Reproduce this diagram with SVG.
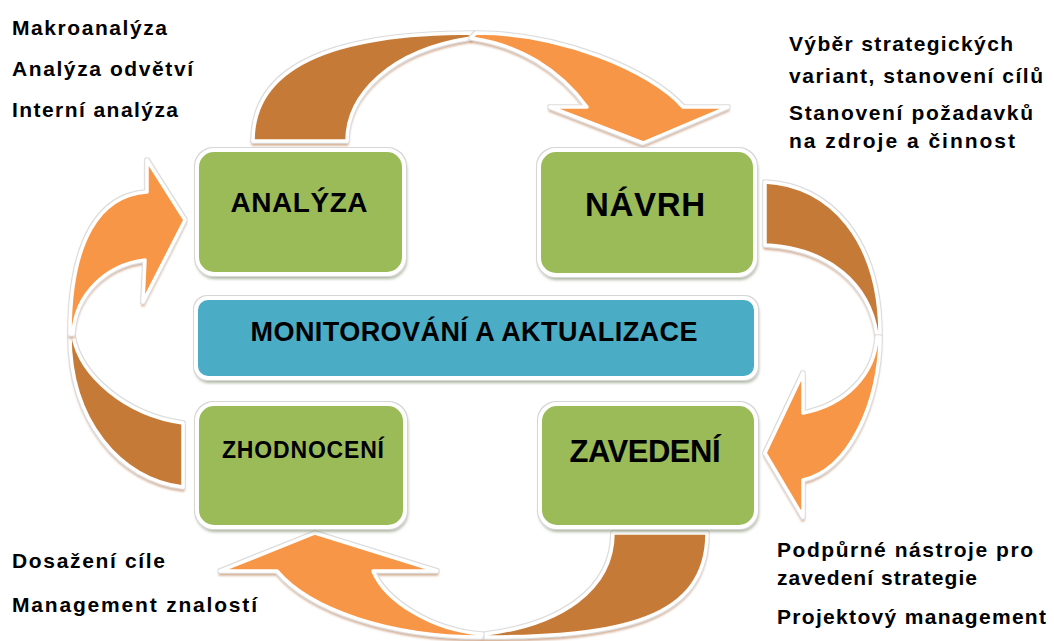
<svg xmlns="http://www.w3.org/2000/svg" width="1054" height="641" viewBox="0 0 1054 641">
  <defs>
    <style>
      .box { fill: #9BBB59; stroke: #ffffff; stroke-width: 4; filter: url(#boxFx); }
      .monitor { fill: #4BACC6; stroke: #ffffff; stroke-width: 4; filter: url(#boxFx); }
      .tail { fill: #C67A37; stroke: #ffffff; stroke-width: 3.5; stroke-linejoin: round; filter: url(#arrowFx); }
      .head { fill: #F79646; stroke: #ffffff; stroke-width: 3.5; stroke-linejoin: round; filter: url(#arrowFx); }
      .lbl { font-family: "Liberation Sans", Arial, sans-serif; font-weight: bold; fill: #000000; text-anchor: middle; }
      .note { font-family: "Liberation Sans", Arial, sans-serif; font-weight: bold; font-size: 21px; fill: #000000; }
    </style>
    <filter id="boxFx" x="-6%" y="-8%" width="114%" height="124%">
      <feGaussianBlur in="SourceAlpha" stdDeviation="1.5" result="blur"/>
      <feOffset in="blur" dx="1" dy="3" result="off"/>
      <feFlood flood-color="#6f7d58" flood-opacity="0.55"/>
      <feComposite in2="off" operator="in" result="shadow"/>
      <feMorphology in="SourceAlpha" operator="dilate" radius="1.2" result="wide"/>
      <feFlood flood-color="#d6d6d6"/>
      <feComposite in2="wide" operator="in" result="rim"/>
      <feMerge>
        <feMergeNode in="shadow"/>
        <feMergeNode in="rim"/>
        <feMergeNode in="SourceGraphic"/>
      </feMerge>
    </filter>
    <filter id="arrowFx" x="-10%" y="-10%" width="125%" height="125%">
      <feGaussianBlur in="SourceAlpha" stdDeviation="1.2" result="blur"/>
      <feOffset in="blur" dx="0" dy="2.5" result="off"/>
      <feFlood flood-color="#b8784a" flood-opacity="0.6"/>
      <feComposite in2="off" operator="in" result="shadow"/>
      <feMorphology in="SourceAlpha" operator="dilate" radius="1" result="wide"/>
      <feFlood flood-color="#dcdcdc"/>
      <feComposite in2="wide" operator="in" result="rim"/>
      <feMerge>
        <feMergeNode in="shadow"/>
        <feMergeNode in="rim"/>
        <feMergeNode in="SourceGraphic"/>
      </feMerge>
    </filter>
  </defs>

  <!-- curved arrows linking the four phases -->
  <g id="connectors">
    <!-- top: ANALÝZA -> NÁVRH -->
    <g id="arrow-top">
      <path class="tail" d="M253,141 C253,50 370,33 474,33 L471,38 C390,50 347,95 347,141 Z"/>
      <path class="head" d="M476,33 C560,33 650,70 683,107 L728,107 L643,143 L550,107 L587,107 C560,70 520,45 471,38 Z"/>
    </g>
    <!-- right: NÁVRH -> ZAVEDENÍ -->
    <g id="arrow-right">
      <path class="tail" d="M765,182 C830,185 880,240 880,335 L877,335 C870,285 830,248 765,245 Z"/>
      <path class="head" d="M880,337 C880,400 850,470 803,480 L803,517 L765,453 L803,373 L803,413 C845,405 875,375 877,337 Z"/>
    </g>
    <!-- bottom: ZAVEDENÍ -> ZHODNOCENÍ -->
    <g id="arrow-bottom">
      <path class="tail" d="M707,533 C707,620 620,637 483,637 L485,634 C560,625 613,590 613,533 Z"/>
      <path class="head" d="M481,637 C390,637 310,610 277,571 L220,571 L315,533 L437,571 L373,571 C385,600 430,630 482,634 Z"/>
    </g>
    <!-- left: ZHODNOCENÍ -> ANALÝZA -->
    <g id="arrow-left">
      <path class="tail" d="M70,336 C70,420 120,480 183,487 L183,423 C125,415 80,375 73,336 Z"/>
      <path class="head" d="M70,334 C70,240 100,195 147,192 L147,160 L185,220 L143,302 L145,260 C105,265 75,295 73,334 Z"/>
    </g>
  </g>

  <g id="analyza">
    <rect class="box" x="197" y="150" width="207" height="124" rx="17"/>
    <text class="lbl" x="299" y="212" font-size="28" textLength="137">ANALÝZA</text>
  </g>

  <g id="navrh">
    <rect class="box" x="539" y="150" width="216" height="125" rx="17"/>
    <text class="lbl" x="645" y="216" font-size="33" textLength="120">NÁVRH</text>
  </g>

  <g id="monitorovani">
    <rect class="monitor" x="196" y="298" width="560" height="80" rx="12"/>
    <text class="lbl" x="474" y="341" font-size="27" textLength="447">MONITOROVÁNÍ A AKTUALIZACE</text>
  </g>

  <g id="zhodnoceni">
    <rect class="box" x="197" y="404" width="208" height="123" rx="17"/>
    <text class="lbl" x="303" y="458" font-size="23" textLength="162">ZHODNOCENÍ</text>
  </g>

  <g id="zavedeni">
    <rect class="box" x="540" y="404" width="216" height="123" rx="17"/>
    <text class="lbl" x="645" y="462" font-size="31" textLength="151">ZAVEDENÍ</text>
  </g>

  <!-- activity notes beside each phase -->
  <g id="notes-analyza">
    <text class="note" x="12" y="35" textLength="155">Makroanalýza</text>
    <text class="note" x="12" y="76" textLength="181">Analýza odvětví</text>
    <text class="note" x="12" y="117" textLength="166">Interní analýza</text>
  </g>
  <g id="notes-navrh">
    <text class="note" x="789" y="51" textLength="224">Výběr strategických</text>
    <text class="note" x="789" y="83" textLength="254">variant, stanovení  cílů</text>
    <text class="note" x="789" y="120" textLength="244">Stanovení  požadavků</text>
    <text class="note" x="789" y="148" textLength="226">na zdroje a činnost</text>
  </g>
  <g id="notes-zhodnoceni">
    <text class="note" x="12" y="568" textLength="153">Dosažení  cíle</text>
    <text class="note" x="12" y="612" textLength="245">Management  znalostí</text>
  </g>
  <g id="notes-zavedeni">
    <text class="note" x="777" y="557" textLength="256">Podpůrné  nástroje pro</text>
    <text class="note" x="777" y="585" textLength="200">zavedení strategie</text>
    <text class="note" x="777" y="624" textLength="269">Projektový management</text>
  </g>
</svg>
